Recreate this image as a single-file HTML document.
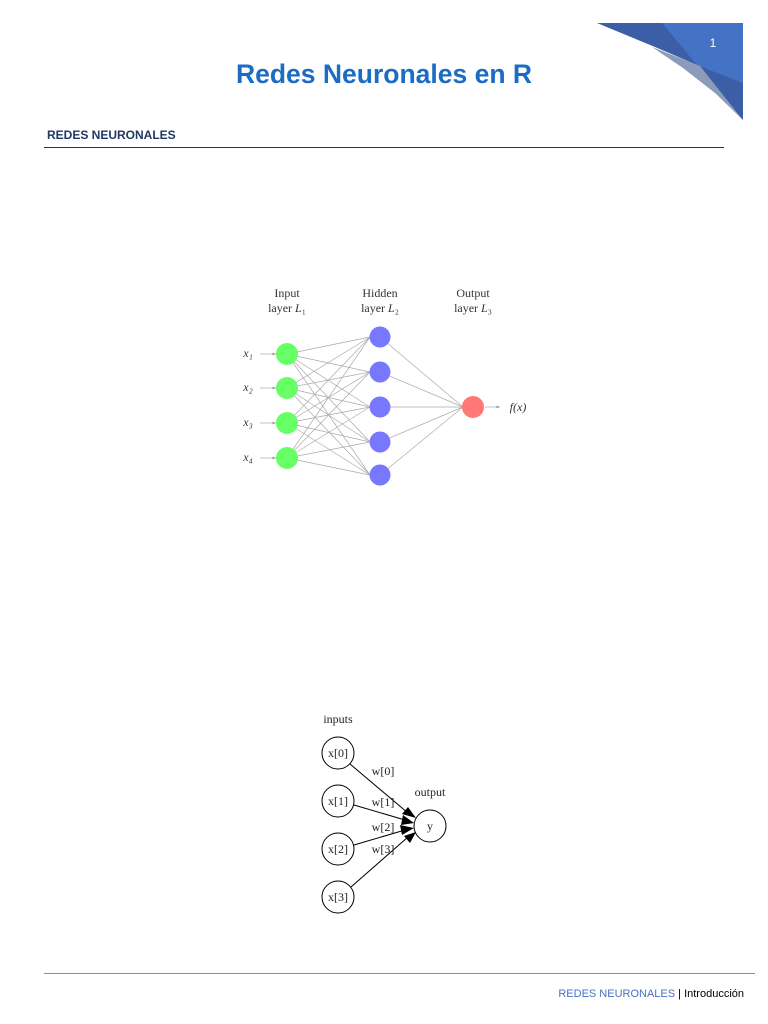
<!DOCTYPE html>
<html><head><meta charset="utf-8"><style>
body{margin:0;background:#fff;width:768px;height:1024px;position:relative;overflow:hidden;font-family:"Liberation Sans",sans-serif}
.t{position:absolute;left:0;width:768px;top:59px;text-align:center;color:#1a6cc4;font-size:26.5px;font-weight:bold}
.h{position:absolute;left:47px;top:128px;color:#1f3864;font-size:12px;font-weight:bold}
.l1{position:absolute;left:44px;top:147px;width:680px;height:1px;background:#333}
.l2{position:absolute;left:44px;top:973px;width:711px;height:1px;background:#5b9bd5}
.f{position:absolute;right:24px;top:988px;font-size:11px;color:#4472c4}
.f span{color:#000}
</style></head><body>
<svg width="768" height="1024" style="position:absolute;left:0;top:0">
<defs><marker id="a" markerWidth="5" markerHeight="4" refX="5" refY="2" orient="auto"><polygon points="0,0 5,2 0,4" fill="#999"/></marker></defs>
<polygon points="597,23 743,23 743,120 715,92 697,65 655,47" fill="#3b5ea6"/>
<polygon points="662,23 743,23 743,83 697,65" fill="#4473c5"/>
<polygon points="652,47 700,66 743,120 715,93 683,68" fill="#8c9bb9"/>
<text x="713" y="47" fill="#fff" font-size="12" text-anchor="middle" font-family="Liberation Sans">1</text>
<g stroke="#aaa" stroke-width="0.7" fill="none">
<line x1="287" y1="354" x2="370" y2="337"/><line x1="287" y1="354" x2="370" y2="372"/><line x1="287" y1="354" x2="370" y2="407"/><line x1="287" y1="354" x2="370" y2="442"/><line x1="287" y1="354" x2="370" y2="475"/>
<line x1="287" y1="388" x2="370" y2="337"/><line x1="287" y1="388" x2="370" y2="372"/><line x1="287" y1="388" x2="370" y2="407"/><line x1="287" y1="388" x2="370" y2="442"/><line x1="287" y1="388" x2="370" y2="475"/>
<line x1="287" y1="423" x2="370" y2="337"/><line x1="287" y1="423" x2="370" y2="372"/><line x1="287" y1="423" x2="370" y2="407"/><line x1="287" y1="423" x2="370" y2="442"/><line x1="287" y1="423" x2="370" y2="475"/>
<line x1="287" y1="458" x2="370" y2="337"/><line x1="287" y1="458" x2="370" y2="372"/><line x1="287" y1="458" x2="370" y2="407"/><line x1="287" y1="458" x2="370" y2="442"/><line x1="287" y1="458" x2="370" y2="475"/>
<line x1="380" y1="337" x2="463" y2="407"/><line x1="380" y1="372" x2="463" y2="407"/><line x1="380" y1="407" x2="463" y2="407"/><line x1="380" y1="442" x2="463" y2="407"/><line x1="380" y1="475" x2="463" y2="407"/>
<g marker-end="url(#a)"><line x1="260" y1="354" x2="276" y2="354"/><line x1="260" y1="388" x2="276" y2="388"/><line x1="260" y1="423" x2="276" y2="423"/><line x1="260" y1="458" x2="276" y2="458"/><line x1="485" y1="407" x2="500" y2="407"/></g>
</g>
<g fill="#6f6"><circle cx="287" cy="354" r="11"/><circle cx="287" cy="388" r="11"/><circle cx="287" cy="423" r="11"/><circle cx="287" cy="458" r="11"/></g>
<g fill="#77f"><circle cx="380" cy="337" r="10.5"/><circle cx="380" cy="372" r="10.5"/><circle cx="380" cy="407" r="10.5"/><circle cx="380" cy="442" r="10.5"/><circle cx="380" cy="475" r="10.5"/></g>
<circle cx="473" cy="407" r="11" fill="#f77"/>
<g font-family="Liberation Serif" font-size="12" fill="#333" text-anchor="middle">
<text x="287" y="297">Input</text><text x="287" y="312">layer <tspan font-style="italic">L</tspan>₁</text>
<text x="380" y="297">Hidden</text><text x="380" y="312">layer <tspan font-style="italic">L</tspan>₂</text>
<text x="473" y="297">Output</text><text x="473" y="312">layer <tspan font-style="italic">L</tspan>₃</text>
<text x="248" y="357" font-style="italic">x₁</text><text x="248" y="391" font-style="italic">x₂</text><text x="248" y="426" font-style="italic">x₃</text><text x="248" y="461" font-style="italic">x₄</text>
<text x="518" y="411" font-style="italic">f(x)</text>
</g>
<g stroke="#000" stroke-width="1" fill="none">
<circle cx="338" cy="753" r="16"/><circle cx="338" cy="801" r="16"/><circle cx="338" cy="849" r="16"/><circle cx="338" cy="897" r="16"/><circle cx="430" cy="826" r="16"/>
<line x1="350" y1="764" x2="408" y2="813"/><line x1="354" y1="805" x2="405" y2="820"/><line x1="354" y1="845" x2="405" y2="830"/><line x1="351" y1="887" x2="408" y2="837"/>
</g>
<g fill="#000"><polygon points="416,818 402,814 408,807"/><polygon points="414,823 401,825 403,815"/><polygon points="414,828 402,835 400,825"/><polygon points="416,832 410,843 404,836"/></g>
<g font-family="Liberation Serif" font-size="12" fill="#222" text-anchor="middle">
<text x="338" y="723">inputs</text><text x="338" y="757">x[0]</text><text x="338" y="805">x[1]</text><text x="338" y="853">x[2]</text><text x="338" y="901">x[3]</text>
<text x="430" y="796">output</text><text x="430" y="830">y</text>
<text x="383" y="775">w[0]</text><text x="383" y="806">w[1]</text><text x="383" y="831">w[2]</text><text x="383" y="853">w[3]</text>
</g>
</svg>
<div class="t">Redes Neuronales en R</div>
<div class="h">REDES NEURONALES</div>
<div class="l1"></div>
<div class="l2"></div>
<div class="f">REDES NEURONALES <span>| Introducción</span></div>
</body></html>
